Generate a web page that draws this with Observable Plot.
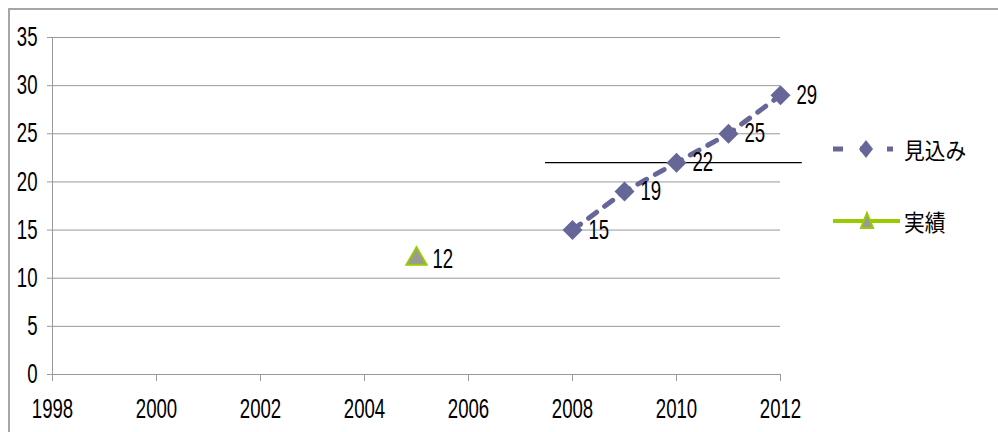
<!DOCTYPE html>
<html>
<head>
<meta charset="utf-8">
<script src="https://cdn.jsdelivr.net/npm/d3@7"></script>
<script src="https://cdn.jsdelivr.net/npm/@observablehq/plot@0.6"></script>
<style>
  html, body { margin: 0; padding: 0; background: #fff; }
  #wrap { position: relative; width: 998px; height: 432px; overflow: hidden; }
  #frame { position: absolute; left: 8px; top: 8px; right: -10px; bottom: -10px;
           border-left: 2px solid #a6a6a6; border-top: 2px solid #a6a6a6; pointer-events: none; }
  #chart { position: absolute; left: 0; top: 0; }
  .leg { position: absolute; left: 833px; display: flex; align-items: center;
         font-family: "Noto Sans CJK JP", sans-serif; font-size: 23px; color: #000; }
  .leg svg { display: block; margin-right: 4px; }
  .leg span { display: inline-block; transform: scaleX(0.9); transform-origin: left center; }
</style>
</head>
<body>
<div id="wrap">
  <div id="chart"></div>
  <div id="frame"></div>
  <div class="leg" style="top:132px">
    <svg width="67" height="30"><line x1="0" y1="15" x2="60" y2="15" stroke="#666699" stroke-width="5" stroke-dasharray="10,17"/><path d="M33,6 L40,15 L33,24 L26,15 Z" fill="#666699"/></svg>
    <span>見込み</span>
  </div>
  <div class="leg" style="top:204px">
    <svg width="67" height="30"><line x1="0" y1="15" x2="67" y2="15" stroke="#99CC00" stroke-width="4"/><path d="M34,7 L40,22 L28,22 Z" fill="#999" stroke="#99CC00" stroke-width="2"/></svg>
    <span>実績</span>
  </div>
</div>
<script>
const forecastYears = [2008, 2009, 2010, 2011, 2012];
const forecastValues = [15, 19, 22, 25, 29];
const actualYears = [2005];
const actualValues = [12];
const xTicks = [1998, 2000, 2002, 2004, 2006, 2008, 2010, 2012];
const yTicks = [0, 5, 10, 15, 20, 25, 30, 35];
const refLine = [{y: 22, x1: 2007.48, x2: 2012.42}];

const forecast = forecastYears.map((x, i) => ({x, y: forecastValues[i]}));
const actual = actualYears.map((x, i) => ({x, y: actualValues[i]}));
const labels = forecast.concat(actual);

const font = "'Liberation Sans', Arial, sans-serif";
const fs = 27;

const chart = Plot.plot({
  width: 998,
  height: 432,
  marginLeft: 52,
  marginRight: 218,
  marginTop: 37,
  marginBottom: 58,
  x: {domain: [1998, 2012], ticks: xTicks, tickFormat: d => String(d)},
  y: {domain: [0, 35], ticks: yTicks},
  style: {fontFamily: font, fontSize: fs + "px", color: "#000", background: "transparent", overflow: "visible"},
  marks: [
    Plot.gridY(yTicks, {stroke: "#999", strokeOpacity: 1}),
    Plot.axisY(yTicks, {tickSize: 5, tickPadding: 10, stroke: "#999", fill: "#000", label: null, fontSize: fs}),
    Plot.axisX(xTicks, {tickSize: 7, tickPadding: 17, stroke: "#999", fill: "#000", label: null, fontSize: fs, tickFormat: d => String(d)}),
    Plot.ruleX([1998], {stroke: "#999"}),
    Plot.ruleY([0], {stroke: "#999"}),
    Plot.ruleY(refLine, {y: "y", x1: "x1", x2: "x2", stroke: "#000", strokeWidth: 1.3}),
    Plot.line(forecast, {x: "x", y: "y", stroke: "#666699", strokeWidth: 5, strokeDasharray: "10,10"}),
    Plot.dot(forecast, {x: "x", y: "y", symbol: "diamond2", r: 9, fill: "#666699", stroke: "none"}),
    Plot.dot(actual, {x: "x", y: "y", symbol: "triangle", r: 7.5, fill: "#999", stroke: "#99CC00", strokeWidth: 2}),
    Plot.text(labels, {x: "x", y: "y", text: d => String(d.y), dx: 16, dy: 0, textAnchor: "start", fontSize: fs, fill: "#000"})
  ]
});
// condense text horizontally to mimic the tall narrow face of the original
d3.select(chart).selectAll("text").each(function() {
  const t = this.getAttribute("transform");
  if (t) this.setAttribute("transform", t + " scale(0.69,1)");
});
document.getElementById("chart").appendChild(chart);
</script>
</body>
</html>
